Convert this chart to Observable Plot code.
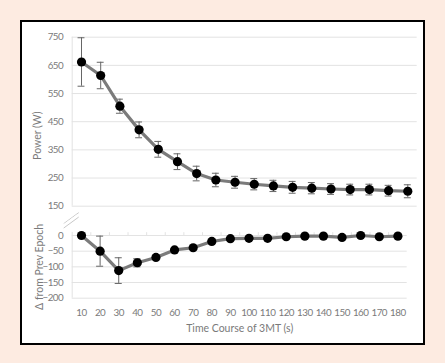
<!DOCTYPE html>
<html><head><meta charset="utf-8">
<script src="https://cdn.jsdelivr.net/npm/d3@7"></script>
<script src="https://cdn.jsdelivr.net/npm/@observablehq/plot@0.6"></script>
<style>
html,body{margin:0;padding:0;background:#fdebe1;}
#wrap{position:relative;width:445px;height:363px;background:#fdebe1;overflow:hidden;font-family:Lato,sans-serif;}
#box{position:absolute;left:20px;top:20px;width:401px;height:321px;border:2px solid #000;background:#fff;}
#wrap svg{position:absolute;left:0;top:0;overflow:visible;}
#wrap g[aria-label$="tick label"] text{letter-spacing:-0.5px;}
</style></head>
<body><div id="wrap"><div id="box"></div></div>
<script>
const times = [10,20,30,40,50,60,70,80,90,100,110,120,130,140,150,160,170,180];
const power = [662,614,505,421,352,308,266,243,235,228,222,217,214,211,209,209,205,203];
const powerErr = [86,47,25,28,28,28,26,24,21,20,20,21,20,19,19,19,19,23];
const delta = [0,-50,-112,-87,-70,-46,-39,-19,-10,-9,-9,-4,-2,-2,-6,0,-4,-2];
const deltaErr = [0,48,41,13,5,3,3,3,2,2,2,2,2,2,2,2,2,2];
const powerTicks = [150,250,350,450,550,650,750];
const deltaTicks = [0,-50,-100,-150,-200];
const xTicks = times;
const boundaries = [15,25,35,45,55,65,75,85,95,105,115,125,135,145,155,165,175];

const topData = times.map((t,i)=>({t, v: power[i], lo: power[i]-powerErr[i], hi: power[i]+powerErr[i]}));
const botData = times.map((t,i)=>({t, v: delta[i], lo: delta[i]-deltaErr[i], hi: delta[i]+deltaErr[i]}));

const FONT = "Lato, sans-serif";
const TXT = "#7a7a7a";
const GRID = "#e3e3e3";

const topPlot = Plot.plot({
  width: 445, height: 215,
  marginLeft: 71.7, marginRight: 28.3, marginTop: 36.7, marginBottom: 9.3,
  style: {fontFamily: FONT, fontSize: "9.8px", color: TXT, background: "transparent", overflow: "visible"},
  x: {domain: [5.15, 184.9], axis: null},
  y: {domain: [150, 750], ticks: powerTicks, tickSize: 0, tickPadding: 9, label: null},
  marks: [
    Plot.ruleY(powerTicks, {stroke: GRID, strokeWidth: 1}),
    Plot.ruleX([5.15], {stroke: GRID}),
    Plot.ruleX(topData, {x: "t", y1: "lo", y2: "hi", stroke: "#666", strokeWidth: 1}),
    Plot.ruleY(topData, {y: "hi", x1: d => d.t - 1.8, x2: d => d.t + 1.8, stroke: "#666"}),
    Plot.ruleY(topData, {y: "lo", x1: d => d.t - 1.8, x2: d => d.t + 1.8, stroke: "#666"}),
    Plot.line(topData, {x: "t", y: "v", stroke: "#7b7b7b", strokeWidth: 3.2}),
    Plot.dot(topData, {x: "t", y: "v", r: 4.6, fill: "#000"}),
    Plot.text(["Power (W)"], {frameAnchor: "left", textAnchor: "middle", lineAnchor: "middle", rotate: -90, dx: -34.4, dy: 14, fill: TXT, fontSize: 10.5})
  ]
});

const botPlot = Plot.plot({
  width: 445, height: 363,
  marginLeft: 71.7, marginRight: 38.3, marginTop: 235, marginBottom: 65.3,
  style: {fontFamily: FONT, fontSize: "9.8px", color: TXT, background: "transparent", overflow: "visible"},
  x: {domain: [5, 185], ticks: xTicks, tickSize: 0, tickPadding: 10.5, tickFormat: d => String(d), label: null},
  y: {domain: [-200, 0], ticks: deltaTicks, tickSize: 0, tickPadding: 9, label: null},
  marks: [
    Plot.ruleY(deltaTicks, {stroke: GRID, strokeWidth: 1}),
    Plot.ruleX([5], {y1: -200, y2: 10, stroke: GRID}),
    Plot.ruleX(boundaries, {y1: 0, y2: 9, stroke: GRID}),
    Plot.ruleX(botData, {x: "t", y1: "lo", y2: "hi", stroke: "#666", strokeWidth: 1}),
    Plot.ruleY(botData, {y: "hi", x1: d => d.t - 1.9, x2: d => d.t + 1.9, stroke: "#666"}),
    Plot.ruleY(botData, {y: "lo", x1: d => d.t - 1.9, x2: d => d.t + 1.9, stroke: "#666"}),
    Plot.line(botData, {x: "t", y: "v", stroke: "#7b7b7b", strokeWidth: 3.2}),
    Plot.dot(botData, {x: "t", y: "v", r: 4.6, fill: "#000"}),
    Plot.text(["Δ from Prev Epoch"], {frameAnchor: "left", textAnchor: "middle", lineAnchor: "middle", rotate: -90, dx: -32.4, dy: 0, fill: TXT, fontSize: 10.5}),
    Plot.text(["Time Course of 3MT (s)"], {frameAnchor: "bottom", textAnchor: "middle", lineAnchor: "middle", dy: 30.6, fill: TXT, fontSize: 10.5})
  ]
});

const wrap = document.getElementById("wrap");
wrap.appendChild(topPlot);
wrap.appendChild(botPlot);

// axis break marks between panels
const sx = botPlot.scale("x"), sy = botPlot.scale("y");
const bx = sx.apply(5), by = (topPlot.scale("y").apply(150) + sy.apply(0)) / 2;
const g = d3.select(botPlot).append("g");
[[-2.2, "#c8c8c8", 1], [0, "#fff", 3], [2.2, "#c8c8c8", 1]].forEach(([off, c, w]) => {
  g.append("line").attr("x1", bx - 8).attr("y1", by + 5.5 + off).attr("x2", bx + 7).attr("y2", by - 5.5 + off)
    .attr("stroke", c).attr("stroke-width", w);
});
</script></body></html>
